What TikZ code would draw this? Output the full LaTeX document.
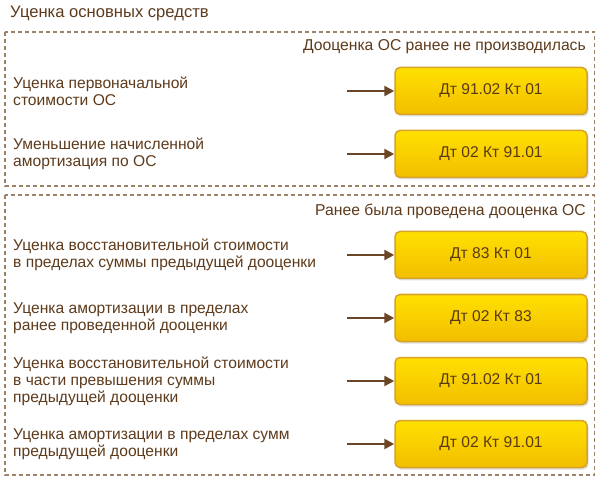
\documentclass[tikz,border=0pt]{standalone}
\usepackage{fontspec}
\setmainfont{Liberation Sans}
\usetikzlibrary{arrows.meta}
\definecolor{txt}{HTML}{5E3B1C}
\definecolor{dash}{HTML}{9C8266}
\definecolor{ytop}{HTML}{FFE000}
\definecolor{ybot}{HTML}{F2BE00}
\definecolor{yborder}{HTML}{D6A22C}
\definecolor{arr}{HTML}{6B4626}
\definecolor{btxt}{HTML}{5A3A12}
\tikzset{
  frame/.style={draw=dash, line width=1.2pt, dash pattern=on 4pt off 3pt},
  lbl/.style={anchor=west, align=left, text=txt, inner sep=0pt, font=\fontsize{15.6}{17}\selectfont},
  hdr/.style={anchor=east, text=txt, inner sep=0pt, font=\fontsize{15.7}{17}\selectfont},
  acct/.style={draw=yborder, line width=1.5pt, rounded corners=5pt, top color=ytop, bottom color=ybot,
    minimum width=192pt, minimum height=47pt, text=btxt, font=\fontsize{15.6}{17}\selectfont},
  shadowbox/.style={fill=black, opacity=0.12, rounded corners=5pt, minimum width=192pt, minimum height=47pt, draw=none},
  conn/.style={draw=arr, line width=2.3pt, -{Triangle[length=10pt,width=10pt]}}
}
\begin{document}
\begin{tikzpicture}[x=1pt,y=-1pt]
\useasboundingbox (0,0) rectangle (600,481);
\fill[white] (0,0) rectangle (600,481);
\node[anchor=west, text=txt, inner sep=0pt, font=\fontsize{16.6}{18}\selectfont] (title) at (10,14) {Уценка основных средств};
\draw[frame] (5,32) rectangle (594.5,186);
\draw[frame] (5,195) rectangle (594.5,475);
\node[hdr] (h1) at (586,47) {Дооценка ОС ранее не производилась};
\node[hdr] (h2) at (586,211) {Ранее была проведена дооценка ОС};
% shadows
\foreach \y in {91,154,255,318,381,444} \node[shadowbox] at (492.5,\y+2) {};
\node[acct] (b1) at (491,91) {Дт 91.02 Кт 01};
\node[acct] (b2) at (491,154) {Дт 02 Кт 91.01};
\node[acct] (b3) at (491,255) {Дт 83 Кт 01};
\node[acct] (b4) at (491,318) {Дт 02 Кт 83};
\node[acct] (b5) at (491,381) {Дт 91.02 Кт 01};
\node[acct] (b6) at (491,444) {Дт 02 Кт 91.01};
\node[lbl] (l1) at (13,91) {Уценка первоначальной\\стоимости ОС};
\node[lbl] (l2) at (13,154) {Уменьшение начисленной\\амортизация по ОС};
\node[lbl] (l3) at (13,255) {Уценка восстановительной стоимости\\в пределах суммы предыдущей дооценки};
\node[lbl] (l4) at (13,318) {Уценка амортизации в пределах\\ранее проведенной дооценки};
\node[lbl] (l5) at (13,381) {Уценка восстановительной стоимости\\в части превышения суммы\\предыдущей дооценки};
\node[lbl] (l6) at (13,444) {Уценка амортизации в пределах сумм\\предыдущей дооценки};
\foreach \i/\y in {1/91,2/154,3/255,4/318,5/381,6/444} {
  \coordinate (s\i) at (347,\y);
  \draw[conn] (s\i) -- (b\i.west);
}
\end{tikzpicture}
\end{document}
